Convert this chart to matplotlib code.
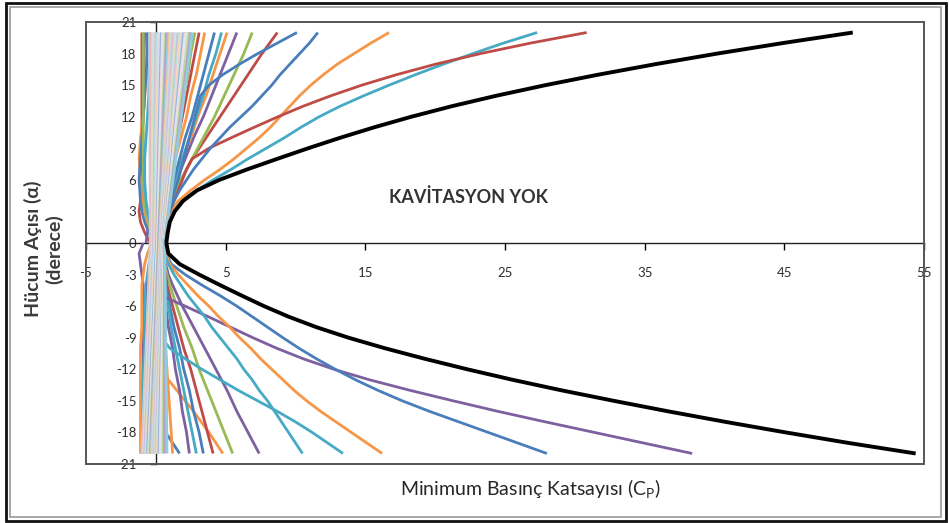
import matplotlib
matplotlib.use("Agg")
import matplotlib.pyplot as plt
from matplotlib.patches import Rectangle

plt.rcParams['font.family'] = ['Lato', 'DejaVu Sans']
plt.rcParams['mathtext.default'] = 'regular'
plt.rcParams['axes.unicode_minus'] = False

# hücum açıları (derece)
alpha_fine_up = list(range(0, 21))
alpha_fine_dn = list(range(0, -21, -1))
alpha_up = [0, 1, 2, 3, 4, 6, 8, 10, 12, 14, 16, 18, 20]
alpha_dn = [0, -1, -2, -3, -4, -6, -8, -10, -12, -14, -16, -18, -20]
alpha_band = [-20, 0, 20]

# zarf eğrisi (siyah), 1 derece aralıkla
cp_black_up = [0.75, 0.85, 1.0, 1.35, 1.95, 2.95, 4.55, 6.55, 8.7, 10.9, 13.2, 15.65,
               18.3, 21.2, 24.4, 27.9, 31.7, 35.8, 40.2, 44.9, 49.9]
cp_black_dn = [0.75, 0.9, 1.7, 3.1, 4.6, 6.15, 7.75, 9.5, 11.5, 13.8, 16.4, 19.25,
               22.3, 25.55, 29.05, 32.8, 36.7, 40.8, 45.1, 49.6, 54.4]

# uzun eğriler, 1 derece aralıkla
cp_long_up = {
    'cyan_a':   [0.5, 0.6, 0.85, 1.2, 1.8, 2.9, 4.1, 5.4, 6.6, 7.9, 9.2, 10.4, 11.7,
                 13.2, 14.9, 16.7, 18.6, 20.6, 22.7, 24.9, 27.3],
    'orange_a': [0.5, 0.6, 0.8, 1.1, 1.6, 2.5, 3.5, 4.6, 5.6, 6.5, 7.4, 8.2, 8.9,
                 9.6, 10.3, 11.1, 12.0, 13.0, 14.2, 15.4, 16.7],
    'red_a':    [0.5, 0.6, 0.75, 1.0, 1.3, 1.6, 1.9, 2.2, 2.6, 3.8, 5.4, 7.05, 8.75,
                 10.55, 12.55, 14.75, 17.25, 20.05, 23.25, 26.85, 30.85],
    'blue_a':   [0.5, 0.6, 0.75, 1.0, 1.3, 1.7, 2.2, 2.7, 3.3, 3.9, 4.6, 5.3, 6.1,
                 6.9, 7.6, 8.3, 8.9, 9.6, 10.3, 11.0, 11.6],
    'blue_b':   [0.4, 0.5, 0.7, 0.9, 1.1, 1.35, 1.6, 1.8, 2.0, 2.2, 2.4, 2.6, 2.8,
                 3.0, 3.2, 3.8, 4.8, 6.0, 7.3, 8.7, 10.1],
}
cp_long_dn = {
    'purple_a': [0.2, 0.2, 0.2, 0.25, 0.3, 0.4, 2.1, 3.75, 5.35, 6.95, 8.65, 10.55, 12.75,
                 15.3, 18.2, 21.3, 24.5, 27.9, 31.4, 34.9, 38.4],
    'blue_a':   [0.6, 0.75, 1.1, 2.1, 3.3, 4.6, 5.8, 6.9, 8.0, 9.1, 10.25, 11.5, 12.85,
                 14.3, 15.9, 17.65, 19.6, 21.7, 23.8, 25.9, 28.0],
    'orange_a': [0.6, 0.7, 1.0, 1.6, 2.3, 3.0, 3.8, 4.5, 5.3, 6.0, 6.8, 7.5, 8.3,
                 9.1, 9.9, 10.8, 11.8, 12.9, 14.0, 15.1, 16.2],
    'cyan_a':   [0.5, 0.6, 0.9, 1.3, 1.8, 2.3, 2.9, 3.5, 4.0, 4.6, 5.2, 5.8, 6.3,
                 6.9, 7.4, 8.0, 8.5, 9.0, 9.5, 10.0, 10.5],
    'cyan_b':   [0.3, 0.3, 0.3, 0.3, 0.3, 0.3, 0.3, 0.3, 0.35, 0.4, 1.0, 2.1, 3.3,
                 4.6, 5.9, 7.3, 8.7, 10.0, 11.2, 12.3, 13.4],
}

# kısa eğriler (yelpaze), pozitif açılar
cp_up = {
    'red_b':    [0.4, 0.5, 0.7, 0.9, 1.1, 1.8, 2.6, 3.6, 4.6, 5.6, 6.6, 7.6, 8.7],
    'green_a':  [0.4, 0.5, 0.7, 0.9, 1.1, 1.8, 2.6, 3.4, 4.2, 4.9, 5.6, 6.3, 6.9],
    'purple_a': [0.4, 0.5, 0.6, 0.8, 1.0, 1.5, 2.1, 2.7, 3.4, 4.0, 4.6, 5.2, 5.8],
    'orange_c': [0.4, 0.5, 0.6, 0.8, 1.0, 1.4, 1.9, 2.5, 3.0, 3.6, 4.1, 4.6, 5.1],
    'cyan_b':   [0.4, 0.5, 0.6, 0.8, 0.9, 1.4, 1.9, 2.4, 2.9, 3.4, 3.8, 4.3, 4.7],
    'blue_c':   [0.4, 0.5, 0.6, 0.7, 0.9, 1.3, 1.7, 2.1, 2.6, 3.0, 3.4, 3.8, 4.2],
    'orange_b': [0.3, 0.4, 0.5, 0.6, 0.8, 1.1, 1.4, 1.8, 2.2, 2.5, 2.9, 3.2, 3.5],
    'red_c':    [0.3, 0.4, 0.5, 0.6, 0.7, 1.0, 1.3, 1.6, 1.9, 2.2, 2.5, 2.8, 3.1],
    'green_b':  [0.3, 0.4, 0.4, 0.5, 0.6, 0.9, 1.1, 1.4, 1.7, 2.0, 2.3, 2.5, 2.8],
    'blue_d':   [0.3, 0.35, 0.4, 0.5, 0.55, 0.8, 1.0, 1.2, 1.5, 1.7, 1.9, 2.2, 2.4],
    'cyan_d':   [0.3, 0.3, 0.35, 0.4, 0.5, 0.7, 0.9, 1.1, 1.3, 1.5, 1.7, 1.9, 2.1],
    'red_l':    [-0.4, -0.8, -1.1, -1.2, -1.1, -0.8, -0.9, -1.0, -1.0, -1.0, -1.0, -1.0, -1.0],
    'purple_l': [-0.7, -0.6, -0.5, -0.6, -0.8, -1.0, -1.1, -1.0, -0.9, -0.8, -0.8, -0.8, -0.8],
    'orange_l': [-0.2, -0.4, -0.6, -0.8, -1.0, -1.1, -1.2, -1.1, -0.9, -0.8, -0.7, -0.7, -0.6],
    'blue_l':   [-0.2, -0.5, -0.8, -1.0, -1.1, -1.2, -1.1, -1.0, -0.9, -0.8, -0.7, -0.6, -0.6],
    'green_l':  [-0.1, -0.3, -0.5, -0.7, -0.8, -0.9, -0.9, -0.9, -0.9, -0.9, -0.9, -0.9, -0.9],
    'cyan_l':   [0.0, -0.2, -0.4, -0.6, -0.7, -0.8, -0.8, -0.7, -0.6, -0.5, -0.5, -0.4, -0.4],
}

# kısa eğriler (yelpaze), negatif açılar
cp_dn = {
    'purple_b': [0.5, 0.55, 0.7, 0.9, 1.2, 1.9, 2.7, 3.5, 4.3, 5.1, 5.8, 6.6, 7.4],
    'green_a':  [0.45, 0.5, 0.6, 0.8, 1.0, 1.5, 2.0, 2.6, 3.1, 3.7, 4.3, 4.9, 5.5],
    'orange_b': [0.2, 0.2, 0.2, 0.2, 0.2, 0.2, 0.2, 0.2, 0.3, 1.5, 2.7, 3.8, 4.8],
    'red_a':    [0.4, 0.45, 0.55, 0.7, 0.8, 1.2, 1.6, 2.0, 2.5, 2.9, 3.3, 3.7, 4.1],
    'blue_b':   [0.4, 0.4, 0.5, 0.6, 0.7, 1.0, 1.3, 1.7, 2.0, 2.4, 2.7, 3.1, 3.4],
    'cyan_c':   [0.35, 0.4, 0.45, 0.5, 0.6, 0.9, 1.1, 1.4, 1.7, 2.0, 2.3, 2.6, 2.9],
    'purple_c': [0.3, 0.35, 0.4, 0.45, 0.5, 0.7, 0.9, 1.2, 1.4, 1.7, 1.9, 2.2, 2.4],
    'blue_c':   [0.2, 0.2, 0.2, 0.2, 0.2, 0.2, 0.2, 0.2, 0.2, 0.2, 0.2, 0.7, 1.7],
    'orange_c': [0.25, 0.3, 0.3, 0.35, 0.4, 0.5, 0.6, 0.7, 0.8, 0.9, 1.0, 1.1, 1.2],
    'purple_l': [-0.9, -1.2, -1.1, -1.0, -0.9, -0.9, -0.9, -0.9, -0.9, -1.0, -1.0, -1.0, -1.0],
    'orange_l': [-0.3, -0.6, -0.8, -0.9, -1.0, -1.0, -1.0, -1.1, -1.1, -1.1, -1.1, -1.1, -1.1],
    'cyan_l':   [-0.1, -0.3, -0.5, -0.6, -0.7, -0.8, -0.8, -0.8, -0.9, -0.9, -0.9, -0.9, -0.9],
    'blue_l':   [0.0, -0.2, -0.4, -0.5, -0.6, -0.6, -0.7, -0.7, -0.7, -0.8, -0.8, -0.8, -0.8],
}

# eksen yakınındaki yoğun demet (alpha = -20, 0, 20)
band_bot = [-1.0, -0.95, -0.88, -0.84, -0.8, -0.73, -0.7, -0.64, -0.6, -0.52, -0.5, -0.45,
            -0.38, -0.35, -0.3, -0.24, -0.2, -0.13, -0.1, -0.05, 0.0, 0.06, 0.1, 0.15,
            0.22, 0.3, 0.38, 0.5, 0.62, 0.8]
band_mid = [-0.4, -0.34, -0.28, -0.22, -0.16, -0.1, -0.05, 0.0, 0.05, 0.1, 0.14, 0.18,
            0.2, 0.25, 0.28, 0.3, 0.35, 0.38, 0.4, 0.44, 0.46, 0.5, 0.52, 0.55,
            0.56, 0.58, 0.6, 0.62, 0.63, 0.64]
band_top = [-0.45, -0.35, -0.22, -0.12, 0.0, 0.08, 0.2, 0.28, 0.4, 0.48, 0.6, 0.7,
            0.78, 0.9, 1.0, 1.08, 1.2, 1.3, 1.38, 1.5, 1.6, 1.7, 1.78, 1.9,
            2.0, 2.1, 2.2, 2.35, 2.5, 2.62]

colors = {
    'blue': '#4a7ebb', 'red': '#be4b48', 'green': '#98b954',
    'purple': '#7d60a0', 'cyan': '#46aac5', 'orange': '#f79646',
}
band_colors = ['#c6d3e5', '#e6b9b8', '#cfdcec', '#d7e4bd', '#ccc1da', '#b7dee8',
               '#fcd5b5', '#d5dde8', '#95b3d7', '#f2dcdb', '#dde6f0', '#c3d69b',
               '#b3a2c7', '#93cddd', '#fac090', '#d9d9d9']

LW = 2.0
fig = plt.figure(figsize=(9.49, 5.23), dpi=100)
ax = fig.add_axes([86 / 949, 1 - 464 / 523, 838 / 949, 442 / 523])


def draw(cp, alpha, color, lw=LW, z=3):
    ax.plot(cp, alpha, color=color, lw=lw, zorder=z,
            solid_capstyle='butt', solid_joinstyle='round')


for name, vals in cp_up.items():
    draw(vals, alpha_up, colors[name.split('_')[0]])
for name, vals in cp_dn.items():
    draw(vals, alpha_dn, colors[name.split('_')[0]])
for name, vals in cp_long_up.items():
    draw(vals, alpha_fine_up, colors[name.split('_')[0]])
for name, vals in cp_long_dn.items():
    draw(vals, alpha_fine_dn, colors[name.split('_')[0]])

for i in range(len(band_mid)):
    draw([band_bot[i], band_mid[i], band_top[i]], alpha_band,
         band_colors[i % len(band_colors)], z=3.2)

draw(cp_black_up, alpha_fine_up, 'black', lw=2.8, z=4)
draw(cp_black_dn, alpha_fine_dn, 'black', lw=2.8, z=4)

ax.set_xlim(-5, 55)
ax.set_ylim(-21, 21)
ax.set_xticks([-5, 5, 15, 25, 35, 45, 55])
ax.set_yticks(list(range(-21, 22, 3)))

# eksenler sıfırda kesişiyor
ax.spines['left'].set_position(('data', 0))
ax.spines['bottom'].set_position(('data', 0))
ax.spines['top'].set_visible(False)
ax.spines['right'].set_visible(False)
for s in ('left', 'bottom'):
    ax.spines[s].set_color('#202020')
    ax.spines[s].set_linewidth(1.0)
    ax.spines[s].set_zorder(2)
ax.tick_params(axis='x', direction='out', length=5, width=1, pad=12,
               labelsize=9.5, labelcolor='#303030')
ax.tick_params(axis='y', direction='out', length=4, width=1, pad=10,
               labelsize=9.5, labelcolor='#303030')

# çizim alanı çerçevesi
ax.add_patch(Rectangle((0, 0), 1, 1, transform=ax.transAxes, fill=False,
                       ec='#555555', lw=1.4, clip_on=False, zorder=5))

ax.text(22.4, 4.4, 'KAVİTASYON YOK', ha='center', va='center',
        fontsize=13, fontweight='bold', color='#333333')

fig.text(43.5 / 949, 1 - 249 / 523, 'Hücum Açısı (α)\n(derece)', rotation=90,
         ha='center', va='center', multialignment='center',
         fontsize=14, fontweight='bold', color='#3a3a3a', linespacing=1.25)
fig.text(530 / 949, 1 - 489 / 523, 'Minimum Basınç Katsayısı (C$_{P}$)',
         ha='center', va='center', fontsize=14, color='#262626')

# dış çift çerçeve
fig.patches.append(Rectangle((5.5 / 949, 2 / 523), 940 / 949, 518 / 523,
                             transform=fig.transFigure, fill=False,
                             ec='#111111', lw=2.0))
fig.patches.append(Rectangle((10 / 949, 6 / 523), 931 / 949, 510 / 523,
                             transform=fig.transFigure, fill=False,
                             ec='#9a9a9a', lw=1.2))

fig.savefig('out.png', dpi=100)
